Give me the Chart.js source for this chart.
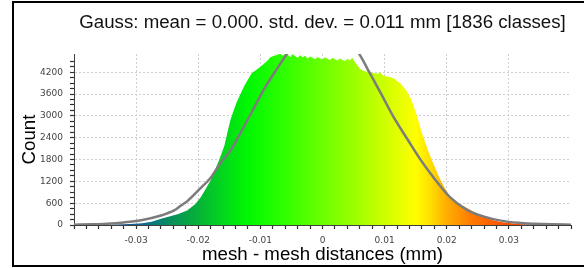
<!DOCTYPE html>
<html>
<head>
<meta charset="utf-8">
<script src="https://cdn.jsdelivr.net/npm/chart.js@4.4.1/dist/chart.umd.min.js"></script>
<style>
  body { margin: 0; background: #fff; }
  #frame {
    position: absolute; left: 12px; top: 1px; width: 600px; height: 262px;
    border: 2px solid #000; border-right: none;
  }
  #chart { position: absolute; left: 0; top: 0; }
</style>
</head>
<body>
<div id="frame"></div>
<canvas id="chart" width="584" height="268"></canvas>
<script>
// DATA
const titleText = 'Gauss: mean = 0.000. std. dev. = 0.011 mm [1836 classes]';
const xTitle = 'mesh - mesh distances (mm)';
const yTitle = 'Count';

// histogram outline (mm, count)
const histX = [
  -0.0400, -0.0370, -0.0340, -0.0310, -0.0290, -0.0275, -0.0260, -0.0245, -0.0232, -0.0218,
  -0.0205, -0.0196, -0.0189, -0.0180, -0.0172, -0.0165, -0.0158, -0.0153, -0.0148, -0.0143,
  -0.0138, -0.0132, -0.0126, -0.0120, -0.0114, -0.0108, -0.0102, -0.0097, -0.0092, -0.0088,
  -0.0084, -0.0080, -0.0076, -0.0072, -0.0068, -0.0064, -0.0060, -0.0056, -0.0052, -0.0048,
  -0.0044, -0.0040, -0.0036, -0.0032, -0.0028, -0.0024, -0.0020, -0.0016, -0.0012, -0.0008,
  -0.0004, 0.0000, 0.0004, 0.0008, 0.0012, 0.0016, 0.0020, 0.0024, 0.0028, 0.0032,
  0.0036, 0.0040, 0.0044, 0.0048, 0.0052, 0.0056, 0.0060, 0.0065, 0.0070, 0.0076,
  0.0082, 0.0088, 0.0093, 0.0098, 0.0104, 0.0110, 0.0115, 0.0120, 0.0126, 0.0131,
  0.0136, 0.0141, 0.0145, 0.0149, 0.0153, 0.0157, 0.0161, 0.0166, 0.0170, 0.0174,
  0.0178, 0.0182, 0.0186, 0.0190, 0.0195, 0.0200, 0.0206, 0.0213, 0.0220, 0.0228,
  0.0236, 0.0245, 0.0255, 0.0265, 0.0275, 0.0287, 0.0300, 0.0315, 0.0335, 0.0360, 0.0400
];
const histCount = [
  0, 2, 8, 25, 45, 90, 170, 240, 300, 400,
  570, 760, 960, 1230, 1550, 1850, 2180, 2550, 2900, 3150,
  3380, 3600, 3820, 4000, 4170, 4250, 4320, 4390, 4470, 4530,
  4610, 4640, 4660, 4690, 4710, 4650, 4720, 4680, 4620, 4700,
  4640, 4600, 4670, 4610, 4650, 4580, 4630, 4600, 4560, 4620,
  4580, 4550, 4610, 4570, 4530, 4600, 4560, 4520, 4580, 4540,
  4500, 4570, 4530, 4600, 4480, 4400, 4300, 4240, 4220, 4200,
  4180, 4160, 4190, 4100, 4080, 4060, 4030, 3960, 3880, 3780,
  3660, 3520, 3350, 3150, 2950, 2700, 2480, 2240, 2040, 1870,
  1700, 1540, 1380, 1240, 1070, 920, 780, 660, 580, 510,
  430, 350, 270, 190, 130, 85, 55, 30, 12, 4, 0
];

// fitted gauss curve (mm, count)
const gaussX = [
  -0.0400, -0.0370, -0.0347, -0.0320, -0.0292, -0.0260, -0.0239, -0.0229, -0.0218, -0.0197,
  -0.0180, -0.0165, -0.0147, -0.0132, -0.0114, -0.0095, -0.0075, -0.0056, -0.0035, -0.0015,
  0.0000, 0.0015, 0.0035, 0.0058, 0.0076, 0.0094, 0.0115, 0.0137, 0.0158, 0.0179,
  0.0206, 0.0233, 0.0260, 0.0287, 0.0315, 0.0340, 0.0370, 0.0400
];
const gaussCount = [
  10, 20, 35, 70, 130, 260, 400, 520, 650, 1000,
  1300, 1680, 2080, 2530, 3100, 3710, 4250, 4730, 5150, 5400,
  5450, 5400, 5150, 4730, 4180, 3620, 2950, 2350, 1790, 1300,
  750, 410, 230, 120, 60, 35, 18, 10
];

// colour ramp along the x axis (mm -> colour)
const rampAt = [-0.040, -0.032, -0.028, -0.024, -0.020, -0.016, -0.012, -0.006, 0.000, 0.006, 0.011, 0.015, 0.0175, 0.020, 0.024, 0.030];
const rampColor = ['#0c2f8c', '#13509e', '#0b7384', '#079258', '#06b238', '#02d81c', '#00f800', '#30ff00', '#6cff00', '#a4ff00', '#d8ff00', '#ffff00', '#ffdc00', '#ffae00', '#ff7a00', '#ff4a00'];

const isMajorX = v => Math.abs(v * 100 - Math.round(v * 100)) < 1e-6;

function histFill(context) {
  const chart = context.chart;
  const area = chart.chartArea;
  if (!area) return '#00ff00';
  const xs = chart.scales.x;
  const g = chart.ctx.createLinearGradient(area.left, 0, area.right, 0);
  rampAt.forEach((v, i) => {
    const t = (xs.getPixelForValue(v) - area.left) / (area.right - area.left);
    g.addColorStop(Math.min(1, Math.max(0, t)), rampColor[i]);
  });
  return g;
}

const ctx = document.getElementById('chart');
new Chart(ctx, {
  type: 'line',
  data: {
    datasets: [
      {
        label: 'gauss',
        data: gaussX.map((x, i) => ({x: x, y: gaussCount[i]})),
        borderColor: '#7c7c7c',
        borderWidth: 2.5,
        pointRadius: 0,
        fill: false,
        cubicInterpolationMode: 'monotone',
        order: 0
      },
      {
        label: 'histogram',
        data: histX.map((x, i) => ({x: x, y: histCount[i]})),
        borderWidth: 0,
        pointRadius: 0,
        fill: 'origin',
        backgroundColor: histFill,
        tension: 0,
        order: 1
      }
    ]
  },
  options: {
    responsive: false,
    animation: false,
    layout: { padding: { left: 0, right: 13, top: 0, bottom: 0 } },
    plugins: {
      legend: { display: false },
      tooltip: { enabled: false },
      title: {
        display: true,
        text: titleText,
        fullSize: false,
        color: '#111',
        font: { family: 'Liberation Sans', size: 18.7, weight: 'normal' },
        padding: { top: 11.5, bottom: 20.1 }
      }
    },
    scales: {
      x: {
        type: 'linear',
        min: -0.04,
        max: 0.04,
        afterFit: s => { s.height = 43; },
        border: { display: true, color: '#404040', width: 1, dash: [2, 2] },
        grid: {
          color: c => (isMajorX(c.tick.value) && Math.abs(c.tick.value) < 0.035) ? '#cfcfcf' : 'transparent',
          tickColor: '#303030',
          tickWidth: 1.2,
          tickLength: 4,
          lineWidth: 1
        },
        ticks: {
          stepSize: 0.002,
          autoSkip: false,
          maxRotation: 0,
          padding: 6,
          color: '#444',
          font: { family: 'DejaVu Sans', size: 9 },
          callback: v => {
            if (!isMajorX(v) || Math.abs(v) > 0.035) return '';
            return Math.abs(v) < 1e-9 ? '0' : v.toFixed(2);
          }
        },
        title: {
          display: true,
          text: xTitle,
          color: '#000',
          font: { family: 'Liberation Sans', size: 18.7 },
          padding: { top: 0, bottom: 1.9 }
        }
      },
      y: {
        min: 0,
        max: 4700,
        afterFit: s => { s.width = 74; },
        border: { display: true, color: '#404040', width: 1, dash: [2, 2] },
        grid: {
          color: c => (c.tick.value % 600 === 0 && c.tick.value > 0) ? '#cfcfcf' : 'transparent',
          tickColor: c => (c.tick.value % 150 === 0) ? '#303030' : 'transparent',
          tickWidth: 1.2,
          tickLength: 4,
          lineWidth: 1
        },
        ticks: {
          stepSize: 150,
          autoSkip: false,
          padding: 7,
          color: '#444',
          font: { family: 'DejaVu Sans', size: 9 },
          callback: v => (v % 600 === 0 ? String(v) : '')
        },
        title: {
          display: true,
          text: yTitle,
          color: '#000',
          font: { family: 'Liberation Sans', size: 18.7 },
          padding: { top: 18.9, bottom: 0 }
        }
      }
    }
  }
});
</script>
</body>
</html>
